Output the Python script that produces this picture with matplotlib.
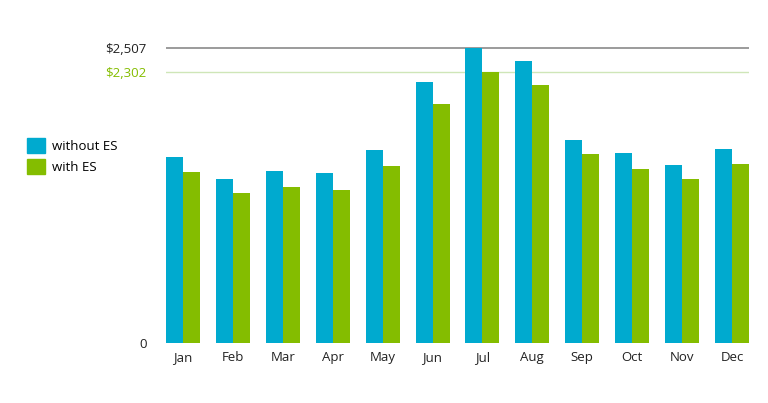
import matplotlib.pyplot as plt
import numpy as np
from matplotlib.patches import Patch

plt.rcParams['font.family'] = ['Open Sans', 'DejaVu Sans']

months = ['Jan', 'Feb', 'Mar', 'Apr', 'May', 'Jun', 'Jul', 'Aug', 'Sep', 'Oct', 'Nov', 'Dec']
without_es = [1581, 1394, 1462, 1445, 1640, 2218, 2507, 2396, 1725, 1615, 1513, 1649]
with_es = [1453, 1275, 1326, 1300, 1504, 2031, 2302, 2193, 1606, 1479, 1394, 1521]
max_without = 2507
max_with = 2302

blue = '#00aacf'
green = '#84bd00'

fig = plt.figure(figsize=(7.68, 4.03), dpi=100)
ax = fig.add_axes([166 / 768, 1 - 343 / 403, (749 - 166) / 768, (343 - 30) / 403])

x = np.arange(len(months))
w = 0.34
ax.bar(x - w / 2, without_es, w, color=blue, label='without ES', zorder=2)
ax.bar(x + w / 2, with_es, w, color=green, label='with ES', zorder=2)

ax.axhline(max_without, color='#8a8a8a', lw=1.2, zorder=1)
ax.axhline(max_with, color='#cfe6b8', lw=1.0, zorder=1)

ax.set_xlim(-0.34, 11.34)
ax.set_ylim(0, 2507 * (343 - 30) / 295)
ax.set_xticks(x)
ax.set_xticklabels(months, fontsize=9.5, color='#222222')
ax.set_yticks([0, max_with, max_without])
ax.set_yticklabels(['0', '$2,302', '$2,507'], fontsize=9.5)
ax.get_yticklabels()[1].set_color(green)
ax.get_yticklabels()[2].set_color('#222222')
ax.get_yticklabels()[0].set_color('#222222')
ax.tick_params(length=0, axis='y', pad=14)
ax.tick_params(length=0, axis='x', pad=6)
for s in ax.spines.values():
    s.set_visible(False)

handles = [Patch(color=blue, label='without ES'), Patch(color=green, label='with ES')]
fig.legend(handles=handles, loc='upper left', bbox_to_anchor=(15 / 768, 1 - 126 / 403),
           frameon=False, fontsize=9.5, handlelength=1.37, handleheight=1.37,
           handletextpad=0.5, labelspacing=0.45)

fig.savefig('out.png', dpi=100)
